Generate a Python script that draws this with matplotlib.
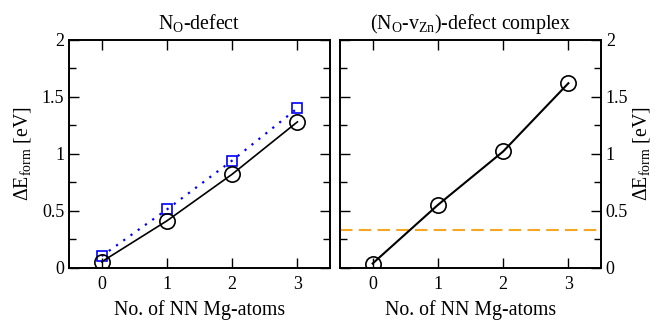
import matplotlib
matplotlib.use("Agg")
import matplotlib.pyplot as plt
from matplotlib.ticker import MultipleLocator

plt.rcParams['font.family'] = ['Liberation Serif', 'DejaVu Serif']
plt.rcParams['mathtext.fontset'] = 'custom'
plt.rcParams['mathtext.rm'] = 'Liberation Serif'
plt.rcParams['mathtext.it'] = 'Liberation Serif:italic'

n_mg = [0, 1, 2, 3]
no_circles = [0.05, 0.41, 0.82, 1.28]
no_squares = [0.10, 0.51, 0.94, 1.40]
complex_circles = [0.035, 0.55, 1.02, 1.62]
ref_level = 0.33

titles = [r'N$_{\mathrm{O}}$-defect', r'(N$_{\mathrm{O}}$-v$_{\mathrm{Zn}}$)-defect complex']
xlabel = 'No. of NN Mg-atoms'
ylabel = r'$\Delta$E$_{\mathrm{form}}$ [eV]'

fig = plt.figure(figsize=(6.58, 3.2), dpi=100)
W, H = 658, 320
ax1 = fig.add_axes([69 / W, 1 - 267.5 / H, 261 / W, 227.5 / H])
ax2 = fig.add_axes([340 / W, 1 - 267.5 / H, 261 / W, 227.5 / H])

fs = 13
fl = 14.3
for ax in (ax1, ax2):
    ax.set_xlim(-0.5, 3.5)
    ax.set_ylim(0, 2)
    ax.set_xticks([0, 1, 2, 3])
    ax.set_yticks([0, 0.5, 1, 1.5, 2])
    ax.set_yticklabels(['0', '0.5', '1', '1.5', '2'])
    ax.yaxis.set_minor_locator(MultipleLocator(0.25))
    ax.tick_params(which='both', direction='in', top=True, right=True, labelsize=fs, width=1.0)
    ax.tick_params(which='major', length=7.5)
    ax.tick_params(which='minor', length=5)
    ax.tick_params(axis='x', pad=6)
    for s in ax.spines.values():
        s.set_linewidth(1.4)
    ax.set_xlabel(xlabel, fontsize=fl, labelpad=5)

ax1.plot(n_mg, no_squares, ls=(0, (1, 3)), color='#0000ff', lw=1.6, marker='s', ms=7,
         mfc='none', mec='#0000ff', mew=1.2)
ax1.plot(n_mg, no_circles, ls='-', color='black', lw=1.2, marker='o', ms=11,
         mfc='none', mec='black', mew=1.2)
ax1.set_ylabel(ylabel, fontsize=fl, labelpad=6)
ax1.set_title(titles[0], fontsize=fl, pad=8)

ax2.axhline(ref_level, color='#f5a623', ls=(0, (6, 3)), lw=1.5)
ax2.plot(n_mg, complex_circles, ls='-', color='black', lw=1.5, marker='o', ms=11,
         mfc='none', mec='black', mew=1.2)
ax2.yaxis.tick_right()
ax2.yaxis.set_label_position('right')
ax2.tick_params(which='both', left=True, right=True, labelleft=False, labelright=True)
ax2.set_ylabel(ylabel, fontsize=fl, labelpad=2)
ax2.set_title(titles[1], fontsize=fl, pad=8)

fig.savefig('out.png', dpi=100)
